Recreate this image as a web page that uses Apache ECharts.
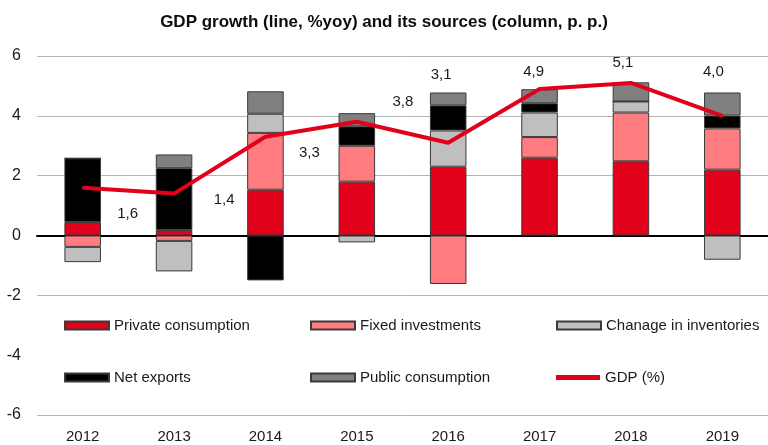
<!DOCTYPE html>
<html>
<head>
<meta charset="utf-8">
<script src="https://cdn.jsdelivr.net/npm/echarts@6/dist/echarts.min.js"></script>
<style>
  html, body { margin: 0; padding: 0; background: #fff; }
  #chart { width: 768px; height: 445px; }
</style>
</head>
<body>
<div id="chart"></div>
<script>
const years = ['2012', '2013', '2014', '2015', '2016', '2017', '2018', '2019']
const privateConsumption = [0.45, 0.18, 1.53, 1.80, 2.30, 2.60, 2.48, 2.20]
const fixedInvestments = [-0.38, -0.18, 1.90, 1.20, -1.62, 0.69, 1.63, 1.38]
const inventories = [-0.51, -1.02, 0.64, -0.23, 1.21, 0.82, 0.37, -0.81]
const netExports = [2.13, 2.07, -1.50, 0.65, 0.84, 0.31, 0, 0.43]
const publicConsumption = [0, 0.46, 0.75, 0.44, 0.43, 0.47, 0.64, 0.77]
const gdp = [1.6, 1.4, 3.3, 3.8, 3.1, 4.9, 5.1, 4.0]

// hand-placed data labels, like in the original
const gdpLabelOffset = [[45, 26], [50, 6], [44, 16], [46, -20], [-7, -68], [-6, -17], [-8, -20], [-9, -44]]

const font = 'Liberation Sans, Arial, sans-serif'
const textColor = '#1a1a1a'
const gdpColor = '#e2001a'

const barSeries = [
  { name: 'Private consumption', data: privateConsumption, color: '#e2001a' },
  { name: 'Fixed investments', data: fixedInvestments, color: '#ff7c80' },
  { name: 'Chanage in inventories', data: inventories, color: '#bfbfbf' },
  { name: 'Net exports', data: netExports, color: '#000000' },
  { name: 'Public consumption', data: publicConsumption, color: '#808080' }
].map(s => ({
  name: s.name,
  type: 'bar',
  stack: 'sources',
  barWidth: '40%',
  data: s.data,
  itemStyle: { color: s.color, borderColor: '#3a3a3a', borderWidth: 1 }
}))

// legend placement: [name, left, top]
const legendSlots = [
  ['Private consumption', 64, 318],
  ['Fixed investments', 310, 318],
  ['Chanage in inventories', 556, 318],
  ['Net exports', 64, 370],
  ['Public consumption', 310, 370],
  ['GDP (%)', 556, 370]
]

const myChart = echarts.init(document.getElementById('chart'))
myChart.setOption({
  animation: false,
  title: {
    text: 'GDP growth (line, %yoy) and its sources (column, p. p.)',
    left: 'center',
    top: 9,
    textStyle: { fontFamily: font, fontSize: 17, fontWeight: 'bold', color: '#0d0d0d' }
  },
  legend: legendSlots.map(([name, left, top]) => ({
    data: [name],
    left: left,
    top: top,
    padding: 0,
    itemWidth: 44,
    itemHeight: name === 'GDP (%)' ? 5 : 8,
    itemGap: 4,
    icon: 'rect',
    textStyle: { fontFamily: font, fontSize: 15, color: textColor, padding: [0, 0, 0, 0] }
  })),
  grid: { left: 37, top: 56, width: 741, bottom: 30 },
  xAxis: {
    type: 'category',
    data: years,
    axisLine: { onZero: true, lineStyle: { color: '#000', width: 2 } },
    axisTick: { show: false },
    axisLabel: { fontFamily: font, fontSize: 15, color: textColor, margin: 14 }
  },
  yAxis: {
    type: 'value',
    min: -6,
    max: 6,
    interval: 2,
    axisLine: { show: false },
    axisTick: { show: false },
    axisLabel: { fontFamily: font, fontSize: 16, color: textColor, margin: 16 },
    splitLine: {
      // the legend box hides the -4 line in the original
      lineStyle: { color: ['#b5b5b5', '#ffffff', '#b5b5b5', '#b5b5b5', '#b5b5b5', '#b5b5b5', '#b5b5b5'], width: 1 }
    }
  },
  series: [
    ...barSeries,
    {
      name: 'GDP (%)',
      type: 'line',
      data: gdp.map((v, i) => ({
        value: v,
        label: { offset: gdpLabelOffset[i] }
      })),
      z: 5,
      symbol: 'circle',
      symbolSize: 2,
      itemStyle: { color: gdpColor },
      lineStyle: { color: gdpColor, width: 4, join: 'round' },
      label: {
        show: true,
        position: 'inside',
        fontFamily: font,
        fontSize: 15,
        color: textColor,
        formatter: p => p.value.toFixed(1).replace('.', ',')
      }
    }
  ]
})
</script>
</body>
</html>
